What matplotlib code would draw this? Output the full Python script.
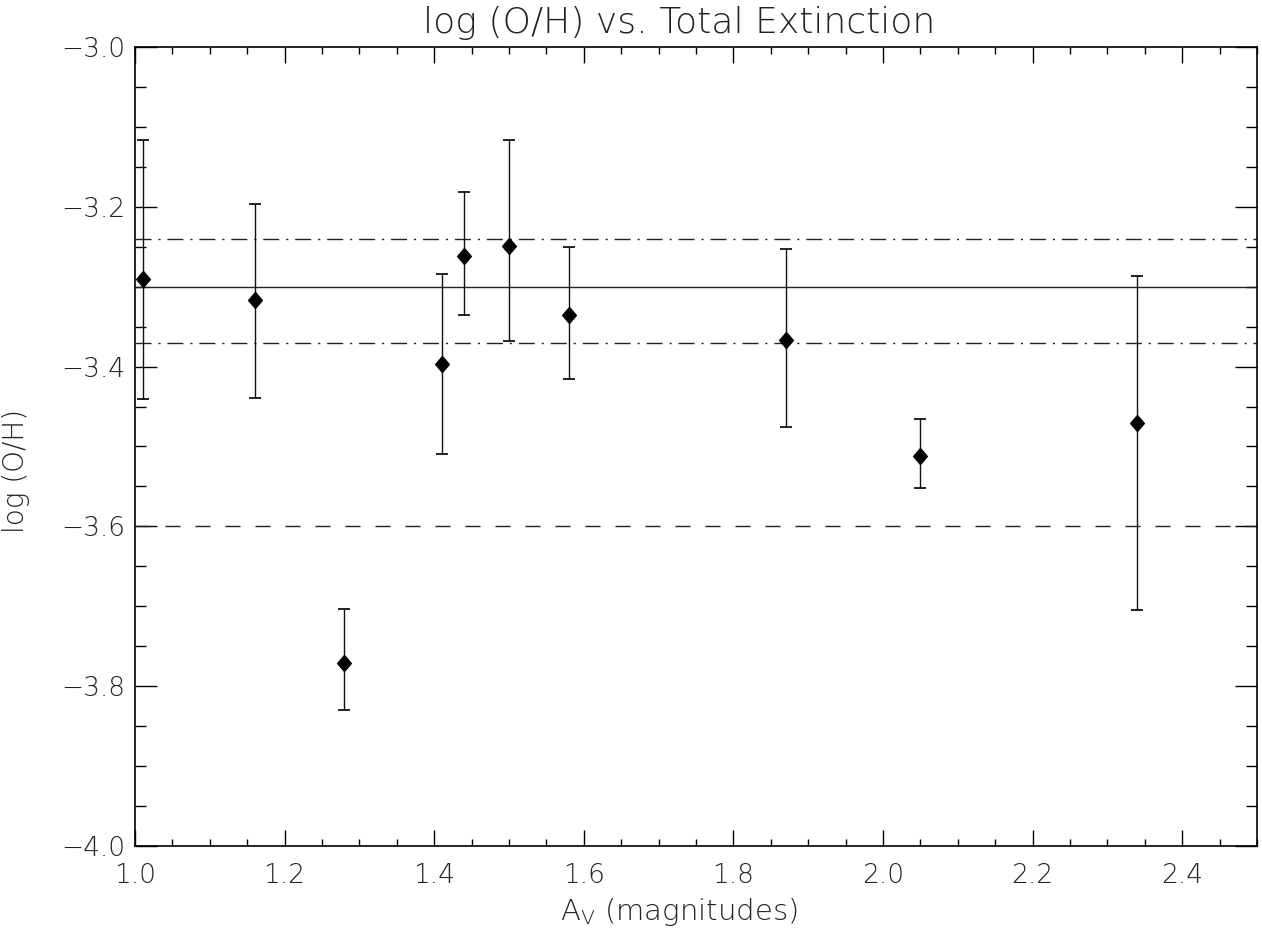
import matplotlib
matplotlib.use("Agg")
import matplotlib.pyplot as plt
from matplotlib.ticker import MultipleLocator

# A_V values and log(O/H) with asymmetric errors
av = [1.01, 1.16, 1.28, 1.41, 1.44, 1.50, 1.58, 1.87, 2.05, 2.34]
log_oh = [-3.290, -3.317, -3.771, -3.397, -3.262, -3.249, -3.336, -3.367, -3.512, -3.470]
err_top = [-3.116, -3.197, -3.703, -3.284, -3.182, -3.116, -3.250, -3.253, -3.465, -3.287]
err_bot = [-3.440, -3.439, -3.830, -3.509, -3.336, -3.368, -3.416, -3.476, -3.552, -3.705]

mean_oh = -3.30
mean_band = [-3.24, -3.37]
solar_ref = -3.60

plt.rcParams['font.family'] = ['DejaVu Sans']
plt.rcParams['font.weight'] = 'light'
txt_color = '#222222'

fig = plt.figure(figsize=(12.62, 9.32), dpi=100)
ax = fig.add_axes([0.107, 0.0923, 0.889, 0.8573])

lower = [y - b for y, b in zip(log_oh, err_bot)]
upper = [t - y for y, t in zip(log_oh, err_top)]

diamond = [(0, 1), (0.86, 0), (0, -1), (-0.86, 0), (0, 1)]
ax.errorbar(av, log_oh, yerr=[lower, upper], fmt='none', ecolor='#111111',
            elinewidth=1.0, capsize=4, capthick=1.3, zorder=3)
ax.plot(av, log_oh, linestyle='none', marker=diamond, markersize=11.5,
        color='black', zorder=4)

ax.axhline(mean_oh, color='#222222', lw=1.0, zorder=2)
for yb in mean_band:
    ax.axhline(yb, color='#222222', lw=1.0, linestyle=(0, (11.5, 5, 1.5, 5)), zorder=2)
ax.axhline(solar_ref, color='#222222', lw=1.0, linestyle=(0, (10.8, 10.8)), zorder=2)

ax.set_xlim(1.0, 2.5)
ax.set_ylim(-4.0, -3.0)
ax.xaxis.set_major_locator(MultipleLocator(0.2))
ax.xaxis.set_minor_locator(MultipleLocator(0.05))
ax.yaxis.set_major_locator(MultipleLocator(0.2))
ax.yaxis.set_minor_locator(MultipleLocator(0.05))
ax.xaxis.set_major_formatter(matplotlib.ticker.FormatStrFormatter('%.1f'))
ax.yaxis.set_major_formatter(matplotlib.ticker.FuncFormatter(lambda v, p: ('%.1f' % v).replace('-', '\u2212')))

ax.tick_params(axis='x', which='major', direction='in', length=11.5, width=1, top=True,
               pad=12, labelsize=19, labelcolor=txt_color)
ax.tick_params(axis='x', which='minor', direction='in', length=5.2, width=1, top=True)
ax.tick_params(axis='y', which='major', direction='in', length=16, width=1, right=True,
               pad=7, labelsize=19, labelcolor=txt_color)
ax.tick_params(axis='y', which='minor', direction='in', length=8, width=1, right=True)

for s in ax.spines.values():
    s.set_linewidth(1.2)

ax.set_title('log (O/H) vs. Total Extinction', fontsize=26, color=txt_color, pad=10,
             x=0.485, fontweight='light')
ax.set_xlabel(r'A$_\mathregular{V}$ (magnitudes)', fontsize=21, color=txt_color,
              fontweight='light')
ax.xaxis.set_label_coords(0.485, -0.062)
ax.set_ylabel('log (O/H)', fontsize=20, color=txt_color, fontweight='light')
ax.yaxis.set_label_coords(-0.0935, 0.47)

fig.savefig('out.png', dpi=100)
